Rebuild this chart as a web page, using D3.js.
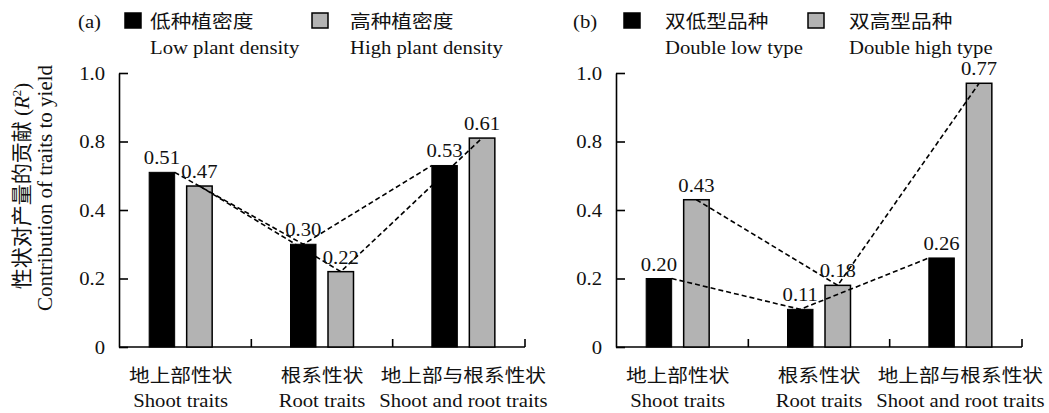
<!DOCTYPE html>
<html>
<head>
<meta charset="utf-8">
<script src="https://cdn.jsdelivr.net/npm/d3@7"></script>
<style>
    body { margin: 0; background: #fff; }
    svg { display: block; }
    text { font-family: "Liberation Serif", "Noto Sans CJK SC", serif; fill: #111; }
</style>
</head>
<body>
<div id="chart"></div>
<script>
// categories (Chinese + English line)
const categoriesZh = ["地上部性状", "根系性状", "地上部与根系性状"];
const categoriesEn = ["Shoot traits", "Root traits", "Shoot and root traits"];

// (a) plant density
const lowDensity = [0.51, 0.30, 0.53];
const highDensity = [0.47, 0.22, 0.61];
const legendZhA = ["低种植密度", "高种植密度"];
const legendEnA = ["Low plant density", "High plant density"];

// (b) variety type
const doubleLow = [0.20, 0.11, 0.26];
const doubleHigh = [0.43, 0.18, 0.77];
const legendZhB = ["双低型品种", "双高型品种"];
const legendEnB = ["Double low type", "Double high type"];

// y axis, the picture labels its ticks like this
const yTicks = [0, 0.2, 0.4, 0.6, 0.8];
const yTickLabels = ["0", "0.2", "0.4", "0.8", "1.0"];

const WIDTH = 1049;
const HEIGHT = 413;
const SX = 1.15; // text in the picture is a bit wider than tall
const colors = ["#000000", "#b3b3b3"];

const svg = d3.select("#chart")
    .append("svg")
    .attr("width", WIDTH)
    .attr("height", HEIGHT);

svg.append("rect")
    .attr("width", WIDTH)
    .attr("height", HEIGHT)
    .attr("fill", "white");

function label(parent, x, y, str, size, anchor)
{
    return parent.append("text")
        .attr("transform", `translate(${x},${y}) scale(${SX},1)`)
        .attr("text-anchor", anchor || "start")
        .attr("font-size", size)
        .text(str);
}

function drawPanel(cfg)
{
    const g = svg.append("g");

    const y = d3.scaleLinear()
        .domain([0, 0.8])
        .range([347, 73]);

    const x = d3.scaleBand()
        .domain(d3.range(categoriesZh.length))
        .range([cfg.axisStart - 9, cfg.axisEnd + 9]);

    const groupWidth = 63;
    const xInner = d3.scaleBand()
        .domain([0, 1])
        .range([0, groupWidth])
        .paddingInner(0.32);
    const offset = (x.bandwidth() - groupWidth) / 2;

    // y axis
    const yAxis = g.append("g")
        .attr("transform", `translate(${cfg.axisStart},0)`)
        .call(d3.axisLeft(y)
            .tickValues(yTicks)
            .tickSizeInner(-9)
            .tickSizeOuter(0)
            .tickPadding(14)
            .tickFormat((d, i) => yTickLabels[i]));

    yAxis.selectAll("path, line")
        .attr("stroke", "black")
        .attr("stroke-width", 1.6);
    yAxis.selectAll("text")
        .attr("x", null)
        .attr("dy", "0.34em")
        .attr("transform", `translate(-14,0) scale(${SX},1)`)
        .attr("font-size", 18)
        .attr("font-family", null)
        .attr("fill", "#111");
    yAxis.attr("font-family", null).attr("font-size", null);

    // x axis, ticks pointing up at the category borders
    g.append("line")
        .attr("x1", cfg.axisStart)
        .attr("x2", cfg.axisEnd)
        .attr("y1", y(0))
        .attr("y2", y(0))
        .attr("stroke", "black")
        .attr("stroke-width", 1.6);

    const borders = d3.range(1, categoriesZh.length).map(i => x(i)).concat([cfg.axisEnd]);
    g.selectAll(".xtick")
        .data(borders)
        .join("line")
        .attr("x1", d => d)
        .attr("x2", d => d)
        .attr("y1", y(0))
        .attr("y2", y(0) - 8)
        .attr("stroke", "black")
        .attr("stroke-width", 1.6);

    // category labels
    categoriesZh.forEach((c, i) => {
        const cx = x(i) + x.bandwidth() / 2;
        label(g, cx, 382, c, 18, "middle");
        label(g, cx, 407, categoriesEn[i], 18, "middle");
    });

    // bars
    cfg.series.forEach((values, s) => {
        g.selectAll(`.bar${s}`)
            .data(values)
            .join("rect")
            .attr("x", (d, i) => x(i) + offset + xInner(s))
            .attr("y", d => y(d))
            .attr("width", xInner.bandwidth())
            .attr("height", d => y(0) - y(d))
            .attr("fill", colors[s])
            .attr("stroke", "black")
            .attr("stroke-width", s === 0 ? 1 : 1.5);
    });

    // dashed trend lines over the bar tops
    const line = d3.line()
        .x(d => d[0])
        .y(d => d[1]);

    cfg.series.forEach((values, s) => {
        const last = values.length - 1;
        const pts = values.map((v, i) => {
            const left = x(i) + offset + xInner(s);
            let px = left + xInner.bandwidth() / 2;
            if (s === 0 && i === 0) px = left + xInner.bandwidth();
            if (s === 0 && i === last) px = left;
            return [px, y(v)];
        });
        g.append("path")
            .attr("d", line(pts))
            .attr("fill", "none")
            .attr("stroke", "black")
            .attr("stroke-width", 1.6)
            .attr("stroke-dasharray", "5,3");
    });

    // value labels
    cfg.series.forEach((values, s) => {
        values.forEach((v, i) => {
            const cx = x(i) + offset + xInner(s) + xInner.bandwidth() / 2;
            label(g, cx, y(v) - 8, v.toFixed(2), 18, "middle");
        });
    });

    // panel tag and legend
    label(g, cfg.tagX, 28, cfg.tag, 18);
    cfg.legendZh.forEach((t, s) => {
        g.append("rect")
            .attr("x", cfg.legendBox[s])
            .attr("y", 13)
            .attr("width", 16)
            .attr("height", 15)
            .attr("fill", colors[s])
            .attr("stroke", "black")
            .attr("stroke-width", 1.5);
        label(g, cfg.legendText[s], 28, t, 18);
        label(g, cfg.legendText[s], 54, cfg.legendEn[s], 18);
    });
}

drawPanel({
    tag: "(a)",
    tagX: 78,
    axisStart: 119,
    axisEnd: 525,
    series: [lowDensity, highDensity],
    legendZh: legendZhA,
    legendEn: legendEnA,
    legendBox: [125, 312],
    legendText: [150, 350],
});

drawPanel({
    tag: "(b)",
    tagX: 573,
    axisStart: 616,
    axisEnd: 1022,
    series: [doubleLow, doubleHigh],
    legendZh: legendZhB,
    legendEn: legendEnB,
    legendBox: [624, 808],
    legendText: [665, 849],
});

// y axis title, two lines
const title = svg.append("g");
const zh = title.append("text")
    .attr("transform", "translate(22,186) rotate(-90)")
    .attr("text-anchor", "middle")
    .attr("dominant-baseline", "central")
    .attr("font-size", 21);
zh.append("tspan").text("性状对产量的贡献 (");
zh.append("tspan").attr("font-style", "italic").text("R");
zh.append("tspan").attr("font-size", 13).attr("dy", "-0.5em").text("2");
zh.append("tspan").attr("dy", "0.3em").text(")");

title.append("text")
    .attr("transform", "translate(45,188) rotate(-90)")
    .attr("text-anchor", "middle")
    .attr("dominant-baseline", "central")
    .attr("font-size", 21)
    .text("Contribution of traits to yield");
</script>
</body>
</html>
